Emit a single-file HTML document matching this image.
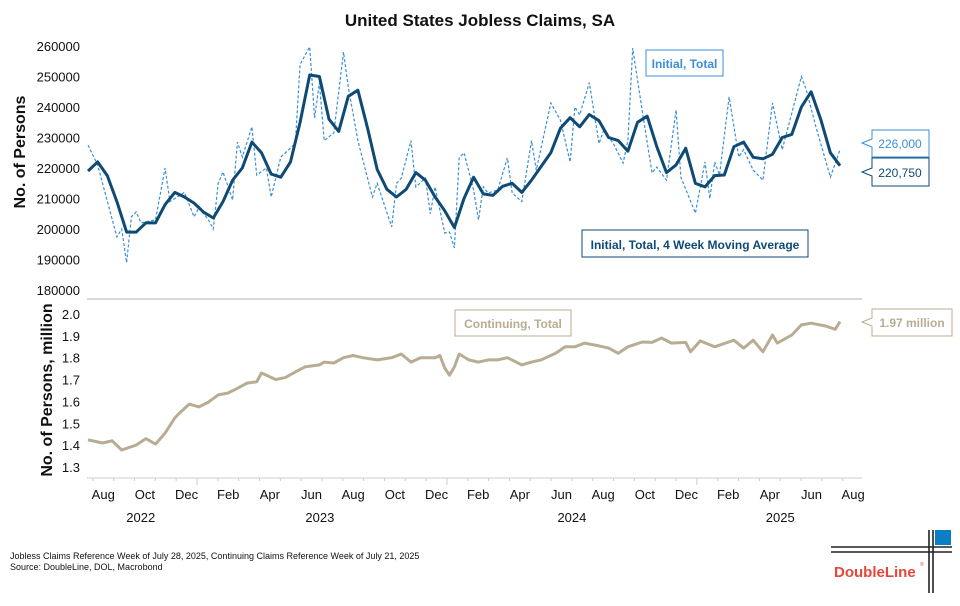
<!DOCTYPE html>
<html><head><meta charset="utf-8"><style>
body{margin:0;background:#fff;width:960px;height:601px;overflow:hidden;font-family:"Liberation Sans",Arial,sans-serif}
svg text{font-family:"Liberation Sans",Arial,sans-serif}
</style></head><body>
<svg id="chart" width="960" height="601" viewBox="0 0 960 601" xmlns="http://www.w3.org/2000/svg">
<text x="480" y="26" text-anchor="middle" font-size="17" font-weight="bold" fill="#111">United States Jobless Claims, SA</text>
<g id="axes"></g>
<g id="series"></g>
<text transform="translate(25,152) rotate(-90)" text-anchor="middle" font-size="16" font-weight="bold" fill="#111">No. of Persons</text>
<text transform="translate(52,390) rotate(-90)" text-anchor="middle" font-size="16" font-weight="bold" fill="#111">No. of Persons, million</text>
<g>
<rect x="646" y="50" width="77" height="26" fill="#fff" stroke="#3A8FD6" stroke-width="1"/>
<text x="684.5" y="68" text-anchor="middle" font-size="12" font-weight="bold" fill="#3A8FD6">Initial, Total</text></g>
<g>
<rect x="582" y="230" width="226" height="27" fill="#fff" stroke="#0E4A74" stroke-width="1"/>
<text x="695" y="249" text-anchor="middle" font-size="12" font-weight="bold" fill="#0E4A74">Initial, Total, 4 Week Moving Average</text></g>
<g>
<rect x="455" y="310" width="116" height="26" fill="#fff" stroke="#B8AD93" stroke-width="1"/>
<text x="513" y="328" text-anchor="middle" font-size="12" font-weight="bold" fill="#B8AD93">Continuing, Total</text></g>
<g>
<path d="M872,130 H929 V157 H872 V147 L862,143 L872,139 Z" fill="#fff" stroke="#3A8FD6"/>
<text x="900" y="148" text-anchor="middle" font-size="12" fill="#3A8FD6">226,000</text></g>
<g>
<path d="M872,158 H929 V186 H872 V176 L862,172 L872,168 Z" fill="#fff" stroke="#0E4A74"/>
<text x="900" y="177" text-anchor="middle" font-size="12" fill="#0E4A74">220,750</text></g>
<g>
<path d="M872,309 H952 V336 H872 V326 L862,322 L872,318 Z" fill="#fff" stroke="#B8AD93"/>
<text x="912" y="327" text-anchor="middle" font-size="12" font-weight="bold" fill="#B8AD93">1.97 million</text></g>
<text x="10" y="559" font-size="9" fill="#111">Jobless Claims Reference Week of July 28, 2025, Continuing Claims Reference Week of July 21, 2025</text>
<text x="10" y="570" font-size="9" fill="#111">Source: DoubleLine, DOL, Macrobond</text>
<g>
<line x1="831" y1="547" x2="952" y2="547" stroke="#222" stroke-width="1.6"/>
<line x1="831" y1="552" x2="952" y2="552" stroke="#222" stroke-width="1.6"/>
<line x1="929" y1="530" x2="929" y2="593" stroke="#222" stroke-width="1.6"/>
<line x1="933" y1="530" x2="933" y2="593" stroke="#222" stroke-width="1.6"/>
<rect x="935" y="530" width="16" height="15" fill="#0A7FC8"/>
<text x="834" y="577" font-size="15" font-weight="bold" fill="#E8463A">DoubleLine</text>
<text x="920" y="566" font-size="5" fill="#E8463A">®</text></g>
</svg>
<script>
// ---- data ----
const monthLabels=["Aug","Oct","Dec","Feb","Apr","Jun","Aug","Oct","Dec","Feb","Apr","Jun","Aug","Oct","Dec","Feb","Apr","Jun","Aug"];
const yearLabels=["2022","2023","2024","2025"];
const topTicks=[180000,190000,200000,210000,220000,230000,240000,250000,260000];
const bottomTicks=[1.3,1.4,1.5,1.6,1.7,1.8,1.9,2.0];
// initial claims (thousands), week index since Jul 23 2022
const initialWeeks=[0,2,6,7,8,9,10,11,14,16,17,20,22,23,25,26,27,28,30,31,32,34,35,37,38,40,43,44,46,47,48,49,51,53,54,56,59,60,63,64,65,67,68,70,71,72,74,75,76,77,78,80,81,82,83,85,87,88,90,92,93,96,98,100,101,102,104,106,107,109,111,112,113,115,117,118,120,122,123,126,128,129,130,131,133,135,136,138,140,142,144,146,148,149,151,154,156];
const initialValues=[227.5,221,197.4,200,189,204,205.6,202,203,220,209,212,204,207,203,200,215,218.7,209.5,228.5,223.6,233.5,217.7,220,210.5,223.6,228,254,259.7,236.4,248,229,231.5,258,246.5,229,210.5,215,200.7,215,216.7,229,213.8,216.7,205,213.8,198.7,199,193.8,223.3,225,212.8,203,213.8,211.8,212.8,223.3,211.8,209,229,219.3,241.3,235.7,222,240,237.4,248,228,232.5,228,221.6,229,259.3,238.4,218.4,220.3,216,239,217,205.2,222,210,222,217.7,243.3,223.6,226,219.3,216,241.3,226,238,250,245.6,233.5,217,226];
// 4-week moving average (thousands), every 2 weeks
const maValues=[219,222,217.5,209,199,199,202,202,208,212,210.5,208.5,205.5,203.6,209,216,220,228.5,225,218,217,222,235,250.5,250,236,232,243.5,245.5,233,219.5,213,210.5,213,218.5,216,210.5,206,200.5,210,217,211.5,211,214,215,212,216,220.5,225,233,236.5,233.5,237.5,235.5,230,229,225.5,235,237,227,218.5,221,226.5,215,213.8,217.5,217.7,227,228.5,223.5,223,224.5,230,231,240,245,236,225,220.75];
// continuing claims (millions)
const contWeeks=[0,3,5,7,10,12,14,16,18,19,21,23,25,27,29,31,33,35,36,39,41,43,45,48,49,51,53,55,57,60,63,65,67,69,72,73,74,75,76,77,79,81,83,85,87,90,92,94,97,99,101,103,106,108,110,112,115,117,119,121,124,125,127,130,132,134,136,138,140,142,143,146,148,150,153,155,156];
const contValues=[1.424,1.41,1.42,1.378,1.40,1.43,1.405,1.455,1.524,1.547,1.588,1.575,1.597,1.63,1.638,1.66,1.684,1.69,1.73,1.70,1.71,1.735,1.758,1.767,1.78,1.776,1.80,1.81,1.80,1.79,1.80,1.817,1.78,1.80,1.80,1.81,1.753,1.72,1.758,1.817,1.79,1.78,1.79,1.79,1.80,1.767,1.78,1.79,1.82,1.85,1.85,1.867,1.854,1.844,1.82,1.85,1.872,1.87,1.89,1.867,1.87,1.827,1.877,1.85,1.865,1.88,1.844,1.88,1.827,1.904,1.867,1.904,1.95,1.958,1.945,1.93,1.965];

// ---- scales ----
const NS="http://www.w3.org/2000/svg";
const xW=w=>88+w*(752/156);
const yTop=v=>46+(260000-v)*244/80000;
const yBot=v=>314+(2.0-v)*153/0.7;
const xMonth=m=>72+m*20.83; // months since Jul 1 2022
function mk(tag,attrs,parent){const e=document.createElementNS(NS,tag);for(const k in attrs)e.setAttribute(k,attrs[k]);parent.appendChild(e);return e;}
const axes=document.getElementById('axes'), series=document.getElementById('series');

topTicks.forEach(v=>{const t=mk('text',{x:80,y:yTop(v)+5,'text-anchor':'end','font-size':13,fill:'#111'},axes);t.textContent=v;

});
bottomTicks.forEach(v=>{const t=mk('text',{x:80,y:yBot(v)+5,'text-anchor':'end','font-size':13,fill:'#111'},axes);t.textContent=v.toFixed(1);

});
const sep=mk('line',{x1:87,y1:299,x2:862,y2:299,stroke:'#ccc','stroke-width':1.5},axes);


const xl=mk('line',{x1:87,y1:478,x2:862,y2:478,stroke:'#ccc','stroke-width':1},axes);


for(let m=1;m<=37;m++){const x=xMonth(m);const major=(m%12)===6;
const tk=mk('line',{x1:x,y1:478,x2:x,y2:major?485:481,stroke:'#ccc'},axes);

}
monthLabels.forEach((l,i)=>{const t=mk('text',{x:xMonth(1+2*i+0.5),y:499,'text-anchor':'middle','font-size':13,fill:'#111'},axes);t.textContent=l;

});
const yearPos=[3.3,11.9,24.0,34.0];
yearLabels.forEach((l,i)=>{const t=mk('text',{x:xMonth(yearPos[i]),y:522,'text-anchor':'middle','font-size':13,fill:'#111'},axes);t.textContent=l;

});

const pts=(ws,vs,fy)=>ws.map((w,i)=>xW(w).toFixed(1)+','+fy(vs[i]).toFixed(1)).join(' ');
const initLine=mk('polyline',{points:pts(initialWeeks,initialValues.map(v=>v*1000),yTop),fill:'none',stroke:'#3A8FD6','stroke-width':1.2,'stroke-dasharray':'3,2'},series);


const maWeeks=maValues.map((v,i)=>i*2);
const maLine=mk('polyline',{points:pts(maWeeks,maValues.map(v=>v*1000),yTop),fill:'none',stroke:'#0E4A74','stroke-width':3,'stroke-linejoin':'round'},series);


const contLine=mk('polyline',{points:pts(contWeeks,contValues,yBot),fill:'none',stroke:'#B8AD93','stroke-width':3,'stroke-linejoin':'round'},series);


</script>
</body></html>
